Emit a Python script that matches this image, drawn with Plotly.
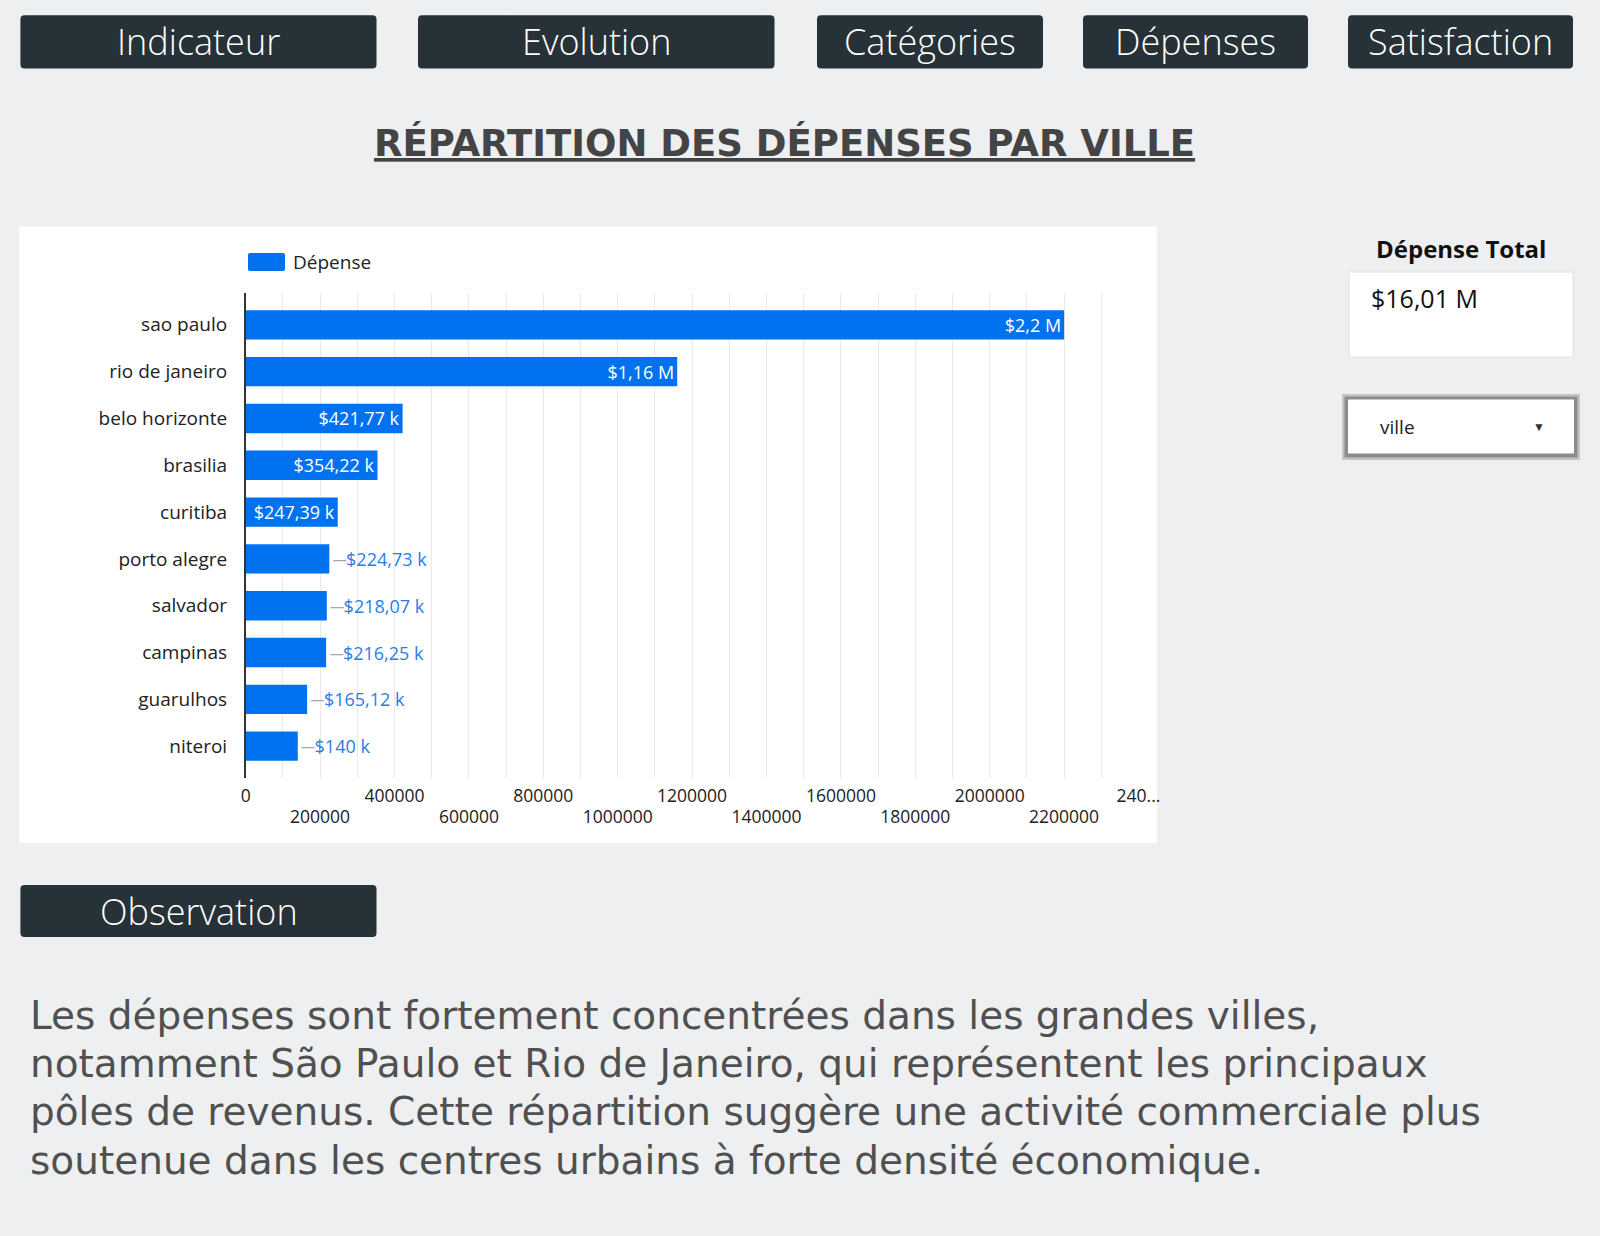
import plotly.graph_objects as go

# ---------------- data ----------------
cities = ["sao paulo", "rio de janeiro", "belo horizonte", "brasilia", "curitiba",
          "porto alegre", "salvador", "campinas", "guarulhos", "niteroi"]
depense = [2200000, 1160000, 421770, 354220, 247390, 224730, 218070, 216250, 165120, 140000]
series_name = "Dépense"
total_title = "Dépense Total"
total_label = "$16,01 M"
x_ticks_row1 = [0, 400000, 800000, 1200000, 1600000, 2000000, 2400000]
x_ticktext_row1 = ["0", "400000", "800000", "1200000", "1600000", "2000000", "240..."]
x_ticks_row2 = [200000, 600000, 1000000, 1400000, 1800000, 2200000]
x_ticktext_row2 = ["200000", "600000", "1000000", "1400000", "1800000", "2200000"]
nav_buttons = ["Indicateur", "Evolution", "Catégories", "Dépenses", "Satisfaction"]
title_text = "RÉPARTITION DES DÉPENSES PAR VILLE"
observation_title = "Observation"
observation_lines = [
    "Les dépenses sont fortement concentrées dans les grandes villes,",
    "notamment São Paulo et Rio de Janeiro, qui représentent les principaux",
    "pôles de revenus. Cette répartition suggère une activité commerciale plus",
    "soutenue dans les centres urbains à forte densité économique.",
]
filter_label = "ville"

# ---------------- layout helpers ----------------
W, H = 1600, 1236
FONT = "Open Sans"
BG = "#eeeff1"
DARK = "#263238"
BLUE = "#0072f0"


def px_x(x):
    return x / W


def px_y(y):
    return 1 - y / H


def rounded_rect(x0, y0, x1, y1, r, color):
    rx, ry = r / W, r / H
    X0, X1 = px_x(x0), px_x(x1)
    Y0, Y1 = px_y(y0), px_y(y1)  # Y0 top, Y1 bottom (paper)
    path = (f"M{X0+rx},{Y0} L{X1-rx},{Y0} Q{X1},{Y0} {X1},{Y0-ry} "
            f"L{X1},{Y1+ry} Q{X1},{Y1} {X1-rx},{Y1} L{X0+rx},{Y1} "
            f"Q{X0},{Y1} {X0},{Y1+ry} L{X0},{Y0-ry} Q{X0},{Y0} {X0+rx},{Y0} Z")
    return dict(type="path", xref="paper", yref="paper", path=path,
                fillcolor=color, line=dict(width=0), layer="below")


def rect(x0, y0, x1, y1, fill, line_color=None, line_width=0, layer="below"):
    return dict(type="rect", xref="paper", yref="paper",
                x0=px_x(x0), x1=px_x(x1), y0=px_y(y1), y1=px_y(y0),
                fillcolor=fill, line=dict(width=line_width, color=line_color or fill),
                layer=layer)


def text_ann(x, y, text, size, color, anchor="center", family=FONT, weight=None):
    f = dict(family=family, size=size, color=color)
    if weight is not None:
        f["weight"] = weight
    return dict(x=px_x(x), y=px_y(y), xref="paper", yref="paper", text=text,
                showarrow=False, xanchor=anchor, yanchor="middle", font=f)


def fmt_money(v):
    if v >= 1e6:
        s, suf = f"{v/1e6:.2f}", " M"
    else:
        s, suf = f"{v/1e3:.2f}", " k"
    s = s.rstrip("0").rstrip(".")
    return "$" + s.replace(".", ",") + suf


inside = [v >= 240000 for v in depense]
labels = [fmt_money(v) if ins else '<span style="color:#a8a8a8">─</span>' + fmt_money(v)
          for v, ins in zip(depense, inside)]
positions = ["inside" if ins else "outside" for ins in inside]

fig = go.Figure()
fig.add_trace(go.Bar(
    x=depense, y=cities, orientation="h", name=series_name,
    marker=dict(color=BLUE, line=dict(width=0)),
    text=labels, textposition=positions, insidetextanchor="end",
    textfont=dict(family=FONT, size=18),
    insidetextfont=dict(family=FONT, size=18, color="white"),
    outsidetextfont=dict(family=FONT, size=18, color="#2a7de8"),
    constraintext="none", cliponaxis=False, hoverinfo="x+y", showlegend=False,
))
# invisible helper so the second (staggered) tick-label row is rendered
fig.add_trace(go.Scatter(x=[0], y=[cities[0]], xaxis="x2", yaxis="y", mode="markers",
                         marker=dict(opacity=0), showlegend=False, hoverinfo="skip"))

shapes = []
# chart panel
shapes.append(rect(19.4, 226.5, 1157, 843, "white"))
# legend swatch
shapes.append(rounded_rect(248, 253, 285, 271, 2, BLUE))
# nav buttons
btn_pos = [(20.4, 376.5), (418, 774.5), (817, 1043), (1083, 1308), (1348, 1573)]
for (x0, x1) in btn_pos:
    shapes.append(rounded_rect(x0, 15.3, x1, 68.4, 4, DARK))
# observation button
shapes.append(rounded_rect(20.4, 885, 376.5, 937, 4, DARK))
# KPI box
shapes.append(rect(1349, 272, 1573, 357, "white", "#e2e2e2", 1))
# dropdown
shapes.append(rect(1342, 394, 1580, 460, "#c4c4c4"))
shapes.append(rect(1344.5, 396.5, 1577.5, 457.5, "#8c8c8c"))
shapes.append(rect(1348, 399.5, 1574, 453.5, "white"))

annotations = []
for (x0, x1), label in zip(btn_pos, nav_buttons):
    annotations.append(text_ann((x0 + x1) / 2, 42, label, 36, "white", weight=300))
annotations.append(text_ann(198.5, 911, observation_title, 36, "white", weight=300))
annotations.append(text_ann(784, 143, f"<b><u>{title_text}</u></b>", 37, "#444444",
                            family="DejaVu Sans"))
annotations.append(text_ann(291, 262, series_name, 19, "#222222", anchor="left"))
annotations.append(text_ann(1461, 248, f"<b>{total_title}</b>", 24, "#111111"))
annotations.append(text_ann(1369, 298, total_label, 25, "#111111", anchor="left"))
annotations.append(text_ann(1378, 427, filter_label, 19, "#222222", anchor="left"))
annotations.append(text_ann(1539, 426, "▼", 12, "#333333"))
line_y = [1015, 1063, 1111, 1160]
for ly, line in zip(line_y, observation_lines):
    annotations.append(text_ann(28, ly, line, 39, "#505050", anchor="left",
                                family="DejaVu Sans"))

n = len(cities)
x_dom = [px_x(245.7), px_x(1138.5)]
tick_font = dict(family=FONT, size=17.5, color="#222222")
fig.update_layout(
    width=W, height=H, autosize=False,
    margin=dict(l=0, r=0, t=0, b=0, pad=0, autoexpand=False),
    paper_bgcolor=BG, plot_bgcolor="rgba(0,0,0,0)",
    font=dict(family=FONT, color="#222222"),
    bargap=0.373,
    showlegend=False,
    xaxis=dict(domain=x_dom, range=[0, 2400000], anchor="y", automargin=False,
               tickmode="array", tickvals=x_ticks_row1, ticktext=x_ticktext_row1,
               showgrid=True, gridcolor="#e9e9e9", gridwidth=1,
               minor=dict(tickmode="linear", tick0=0, dtick=100000, showgrid=True,
                          gridcolor="#e9e9e9", gridwidth=1, ticks=""),
               zeroline=False, showline=False, ticks="",
               ticklabelstandoff=5, tickfont=tick_font, fixedrange=True),
    xaxis2=dict(overlaying="x", matches="x", anchor="y", side="bottom", automargin=False,
                tickmode="array", tickvals=x_ticks_row2, ticktext=x_ticktext_row2,
                showgrid=False, zeroline=False, showline=False, ticks="",
                ticklabelstandoff=26, tickfont=tick_font, fixedrange=True),
    yaxis=dict(domain=[px_y(778), px_y(293)], type="category", automargin=False,
               categoryorder="array", categoryarray=cities,
               range=[n - 1 + 0.68, -0.68],
               showline=True, linecolor="#333333", linewidth=1.5,
               showgrid=False, zeroline=False, ticks="",
               ticklabelstandoff=13, tickfont=dict(family=FONT, size=19, color="#222222"),
               fixedrange=True),
    shapes=shapes,
    annotations=annotations,
)

fig.write_html("out.html")
